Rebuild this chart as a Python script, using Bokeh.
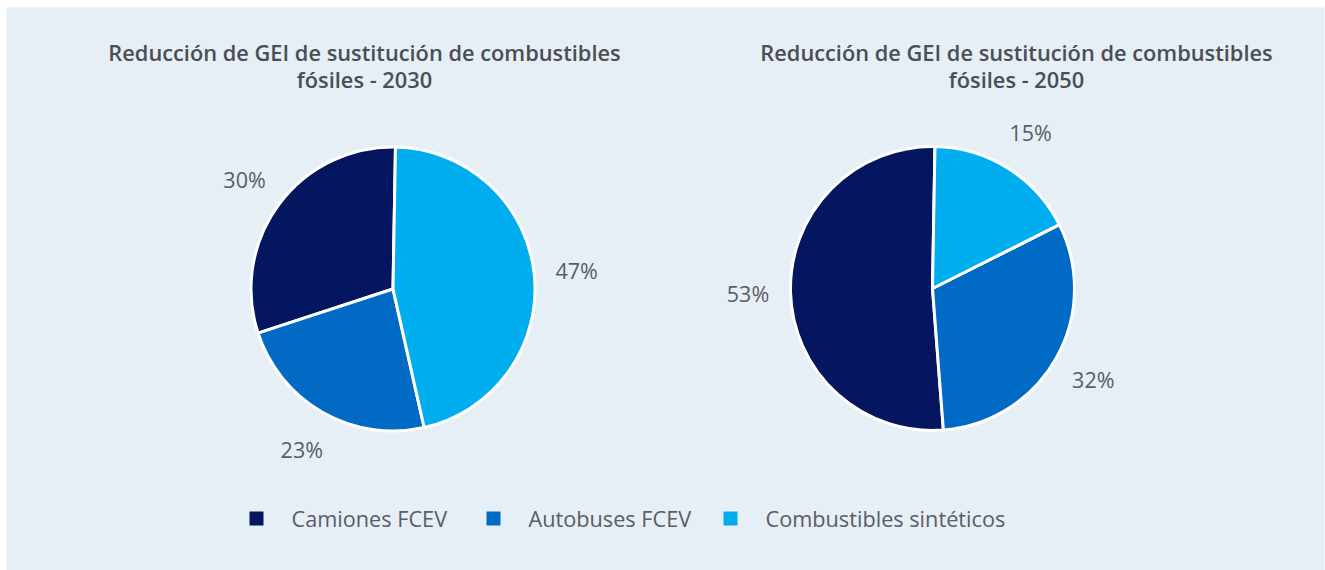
import numpy as np
from bokeh.plotting import figure
from bokeh.models import Range1d, ColumnDataSource
from bokeh.core.properties import value
from bokeh.embed import file_html
from bokeh.resources import INLINE

# ---- data ----
categories = ["Camiones FCEV", "Autobuses FCEV", "Combustibles sintéticos"]
colors = ["#04165F", "#006AC5", "#00AEEF"]

title_2030 = "Reducción de GEI de sustitución de combustibles\nfósiles - 2030"
values_2030 = [30.3, 23.5, 46.2]
labels_2030 = ["30%", "23%", "47%"]

title_2050 = "Reducción de GEI de sustitución de combustibles\nfósiles - 2050"
values_2050 = [51.5, 31.2, 17.3]
labels_2050 = ["53%", "32%", "15%"]

# ---- layout ----
BG = "#E6EEF6"
TITLE_C = "#4A4E55"
TEXT_C = "#595D64"
FONT = "Open Sans"
TITLE_FONT = "'Open Sans SemiBold', 'Open Sans'"
W, H = 1325, 570
L, T, Rb = 6, 7, 1


def X(px):
    return px


def Y(py):
    return H - py


p = figure(width=W, height=H, x_range=Range1d(L, W - Rb), y_range=Range1d(0, H - T),
           output_backend="svg", toolbar_location=None,
           min_border_left=L, min_border_top=T, min_border_right=Rb, min_border_bottom=0)
p.axis.visible = False
p.grid.visible = False
p.outline_line_color = None
p.background_fill_color = BG
p.border_fill_color = "#FFFFFF"

R = 142
pies = [
    (values_2030, labels_2030, title_2030, 392.5, 288.5, 364),
    (values_2050, labels_2050, title_2050, 932.0, 288.0, 1016),
]

for vals, labs, title, cx, cy, tx in pies:
    frac = np.array(vals, dtype=float) / float(sum(vals))
    start = np.pi / 2 - np.radians(1.0)
    ends = start + 2 * np.pi * np.cumsum(frac)
    starts = np.concatenate([[start], ends[:-1]])
    src = ColumnDataSource(dict(start=starts, end=ends, color=colors))
    p.wedge(x=X(cx), y=Y(cy), radius=R, start_angle="start", end_angle="end",
            fill_color="color", line_color="#FFFFFF", line_width=3, source=src)

    mids = (starts + ends) / 2
    lr = 1.3 * R
    lsrc = ColumnDataSource(dict(x=X(cx) + lr * np.cos(mids),
                                 y=Y(cy) + lr * np.sin(mids), t=labs))
    p.text(x="x", y="y", text="t", source=lsrc, text_font=value(FONT),
           text_font_size="21.5px", text_color=TEXT_C, text_align="center",
           text_baseline="middle")

    lines = title.split("\n")
    tsrc = ColumnDataSource(dict(x=[X(tx)] * len(lines),
                                 y=[Y(52 + 27 * i) for i in range(len(lines))],
                                 t=lines))
    p.text(x="x", y="y", text="t", source=tsrc, text_font=value(TITLE_FONT),
           text_font_size="21.8px", text_font_style="bold", text_color=TITLE_C,
           text_align="center", text_baseline="middle")

# legend
leg_x = [256, 493, 730]
leg_y = 518
p.rect(x=[X(v) for v in leg_x], y=[Y(leg_y)] * 3, width=14, height=14,
       fill_color=colors, line_color=None)
p.text(x=[X(v + 35) for v in leg_x], y=[Y(leg_y)] * 3, text=categories,
       text_font=value(FONT), text_font_size="21.7px", text_color=TEXT_C,
       text_align="left", text_baseline="middle")

open("out.html", "w").write(file_html(p, INLINE))
